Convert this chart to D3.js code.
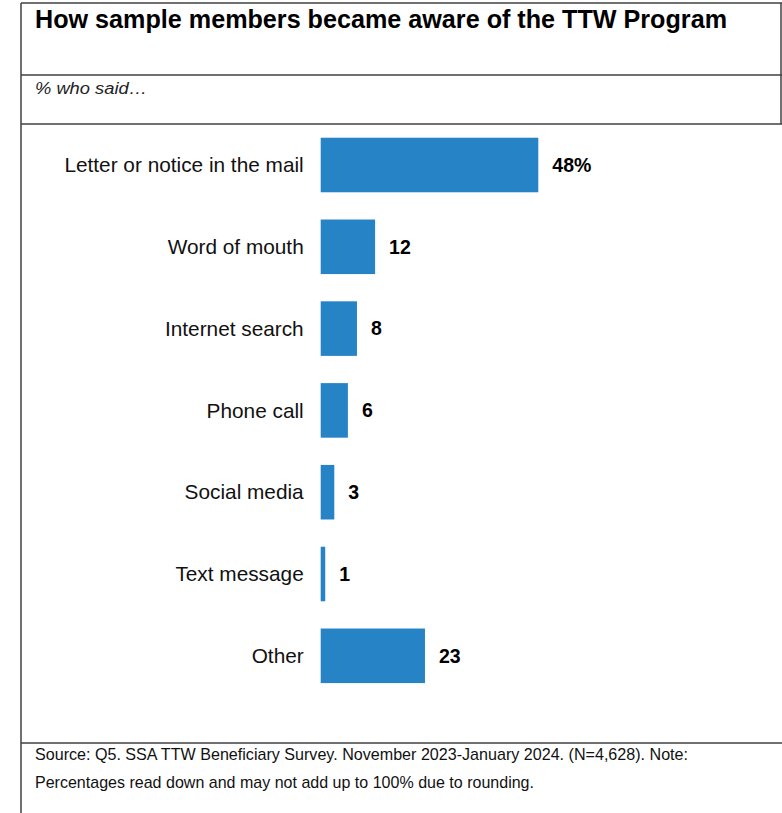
<!DOCTYPE html>
<html>
<head>
<meta charset="utf-8">
<script src="https://cdn.jsdelivr.net/npm/d3@7"></script>
<style>
  html, body { margin: 0; padding: 0; background: #fff; }
  svg { display: block; font-family: Arial, "Liberation Sans", sans-serif; }
</style>
</head>
<body>
<svg id="chart" width="782" height="813"></svg>
<script>
// Survey responses: how sample members heard about the program
const categories = [
  "Letter or notice in the mail",
  "Word of mouth",
  "Internet search",
  "Phone call",
  "Social media",
  "Text message",
  "Other"
];
const values = [48, 12, 8, 6, 3, 1, 23];
const valueLabels = ["48%", "12", "8", "6", "3", "1", "23"];

const titleText = "How sample members became aware of the TTW Program";
const subtitleText = "% who said\u2026";
const footerLines = [
  "Source: Q5. SSA TTW Beneficiary Survey. November 2023-January 2024. (N=4,628). Note:",
  "Percentages read down and may not add up to 100% due to rounding."
];

const svg = d3.select("#chart");
const W = 782, H = 813;
const lineColor = "#404040";
const barColor = "#2683C6";

// Frame: left rule, top rule, dividers under title, subtitle, and above footer
const frame = svg.append("g").attr("stroke", lineColor).attr("stroke-width", 1.5).attr("fill", "none");
frame.append("line").attr("x1", 21).attr("x2", 21).attr("y1", 3).attr("y2", H);
frame.append("line").attr("x1", 21).attr("x2", W).attr("y1", 3).attr("y2", 3);
frame.append("line").attr("x1", 781).attr("x2", 781).attr("y1", 3).attr("y2", 124);
frame.append("line").attr("x1", 21).attr("x2", W).attr("y1", 75).attr("y2", 75);
frame.append("line").attr("x1", 21).attr("x2", W).attr("y1", 124).attr("y2", 124);
frame.append("line").attr("x1", 21).attr("x2", W).attr("y1", 743).attr("y2", 743);

// Title and subtitle
svg.append("text")
  .attr("x", 35).attr("y", 28)
  .attr("font-size", 25.5).attr("font-weight", "bold").attr("fill", "#000")
  .attr("textLength", 692).attr("lengthAdjust", "spacingAndGlyphs")
  .text(titleText);

svg.append("text")
  .attr("x", 35).attr("y", 94)
  .attr("font-size", 16).attr("font-style", "italic").attr("fill", "#222")
  .attr("textLength", 112).attr("lengthAdjust", "spacingAndGlyphs")
  .text(subtitleText);

// Scales
const x = d3.scaleLinear().domain([0, 48]).range([320.7, 538.3]);
const y = d3.scaleBand()
  .domain(categories)
  .range([124.1, 696.7])
  .paddingInner(0.333)
  .paddingOuter(0.1665);

const rows = categories.map((c, i) => ({ cat: c, val: values[i], label: valueLabels[i] }));

// Bars
svg.append("g").selectAll("rect")
  .data(rows)
  .join("rect")
  .attr("x", x(0))
  .attr("y", d => y(d.cat))
  .attr("width", d => x(d.val) - x(0))
  .attr("height", y.bandwidth())
  .attr("fill", barColor);

// Category labels (axis without line or ticks)
const axis = d3.axisLeft(y).tickSize(0).tickPadding(0);
const axisG = svg.append("g")
  .attr("transform", `translate(${x(0) - 17},0)`)
  .call(axis);
axisG.select(".domain").remove();
axisG.selectAll("text")
  .attr("font-size", 20.8)
  .attr("font-family", "Arial, 'Liberation Sans', sans-serif")
  .attr("fill", "#111")
  .attr("dy", "0.35em");

// Value labels
svg.append("g").selectAll("text")
  .data(rows)
  .join("text")
  .attr("x", d => x(d.val) + 14)
  .attr("y", d => y(d.cat) + y.bandwidth() / 2)
  .attr("dy", "0.35em")
  .attr("font-size", 19.5)
  .attr("font-weight", "bold")
  .attr("fill", "#000")
  .text(d => d.label);

// Footer note
svg.append("g").selectAll("text")
  .data(footerLines)
  .join("text")
  .attr("x", 35)
  .attr("y", (d, i) => 760 + i * 28)
  .attr("font-size", 17)
  .attr("fill", "#111")
  .attr("textLength", (d, i) => i === 0 ? 653 : 499)
  .attr("lengthAdjust", "spacingAndGlyphs")
  .text(d => d);
</script>
</body>
</html>
